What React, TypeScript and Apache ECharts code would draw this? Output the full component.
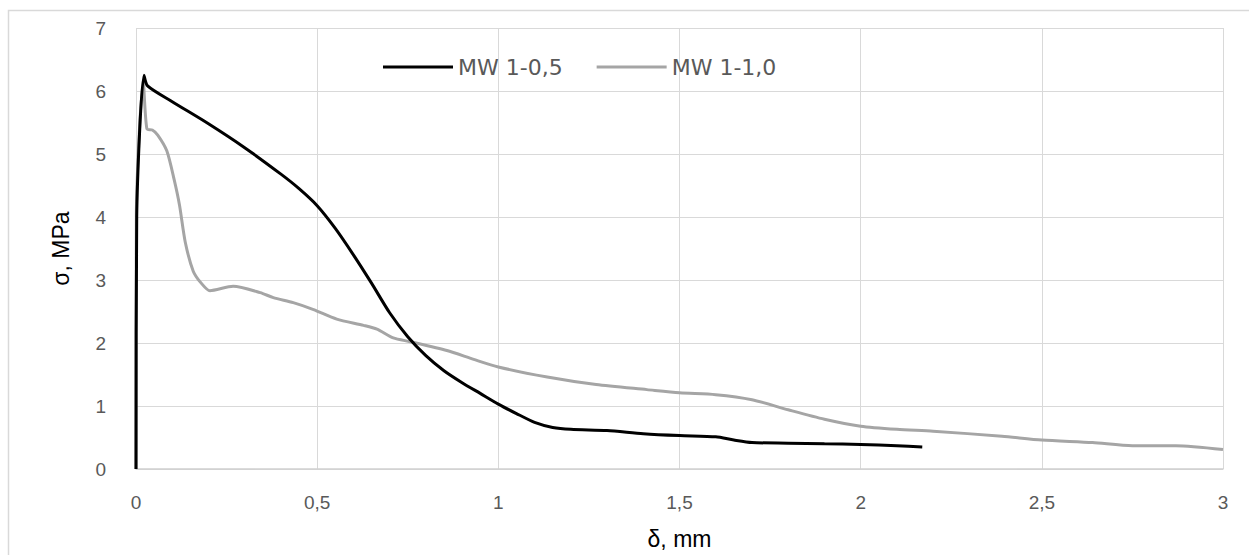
import React, { useEffect, useRef } from "react";
import * as echarts from "echarts";

const seriesNames = ["MW 1-0,5", "MW 1-1,0"];

const blackData: [number, number][] = [
  [0, 0], [0.002, 4.0], [0.022, 6.25], [0.032, 6.08], [0.1, 5.83], [0.2, 5.48],
  [0.3, 5.1], [0.4, 4.68], [0.45, 4.45], [0.5, 4.18], [0.55, 3.82],
  [0.6, 3.4], [0.65, 2.95], [0.7, 2.48], [0.75, 2.1], [0.8, 1.8],
  [0.85, 1.56], [0.9, 1.37], [0.95, 1.2], [1.0, 1.03], [1.05, 0.88],
  [1.1, 0.74], [1.15, 0.66], [1.2, 0.63], [1.3, 0.61], [1.4, 0.56],
  [1.5, 0.53], [1.6, 0.51], [1.65, 0.46], [1.7, 0.42], [1.8, 0.41],
  [1.9, 0.4], [2.0, 0.39], [2.1, 0.37], [2.17, 0.35],
];

const grayData: [number, number][] = [
  [0, 0], [0.001, 4.05], [0.02, 6.15], [0.03, 5.4], [0.045, 5.38], [0.06, 5.3],
  [0.085, 5.05], [0.105, 4.6], [0.12, 4.19], [0.136, 3.6], [0.158, 3.14],
  [0.18, 2.95], [0.204, 2.83], [0.268, 2.9], [0.343, 2.8], [0.379, 2.72],
  [0.434, 2.64], [0.49, 2.53], [0.554, 2.38], [0.628, 2.28], [0.665, 2.22],
  [0.71, 2.08], [0.757, 2.02], [0.858, 1.88], [0.932, 1.74], [1.0, 1.62],
  [1.135, 1.46], [1.27, 1.34], [1.41, 1.26], [1.5, 1.21], [1.6, 1.18],
  [1.7, 1.1], [1.8, 0.94], [1.9, 0.79], [2.0, 0.68], [2.1, 0.63], [2.2, 0.6],
  [2.39, 0.52], [2.5, 0.46], [2.64, 0.42], [2.75, 0.37], [2.87, 0.37],
  [3.0, 0.31],
];

const xAxisTitle = "δ, mm";
const yAxisTitle = "σ, MPa";

export default function App() {
  const ref = useRef<HTMLDivElement>(null);
  useEffect(() => {
    document.body.style.margin = "0";
    const chart = echarts.init(ref.current!, undefined, { renderer: "svg" });
    const font = "'Liberation Sans', Arial, sans-serif";
    chart.setOption({
      animation: false,
      backgroundColor: "#ffffff",
      graphic: [
        {
          type: "rect",
          shape: { x: 8.5, y: 10.5, width: 1260, height: 600 },
          style: { fill: "none", stroke: "#d9d9d9", lineWidth: 1.5 },
          silent: true,
          z: -10,
        },
      ],
      grid: { left: 136, right: 26, top: 28, bottom: 83, containLabel: false },
      legend: {
        left: 378,
        top: 51,
        icon: "rect",
        itemWidth: 70,
        itemHeight: 3,
        itemGap: 34,
        textStyle: { fontFamily: "'DejaVu Sans', sans-serif", fontSize: 22, color: "#595959" },
        data: seriesNames,
      },
      xAxis: {
        type: "value",
        min: 0,
        max: 3,
        interval: 0.5,
        name: xAxisTitle,
        nameLocation: "middle",
        nameGap: 58,
        nameTextStyle: { fontFamily: font, fontSize: 23, color: "#000" },
        axisLine: { show: true, lineStyle: { color: "#d0d0d0", width: 1.5 } },
        axisTick: { show: false },
        axisLabel: {
          margin: 24,
          fontFamily: font,
          fontSize: 19,
          color: "#595959",
          formatter: (v: number) => String(v).replace(".", ","),
        },
        splitLine: { show: true, lineStyle: { color: "#d9d9d9", width: 1 } },
      },
      yAxis: {
        type: "value",
        min: 0,
        max: 7,
        interval: 1,
        name: yAxisTitle,
        nameLocation: "middle",
        nameGap: 64,
        nameRotate: 90,
        nameTextStyle: { fontFamily: font, fontSize: 23, color: "#000" },
        axisLine: { show: false },
        axisTick: { show: false },
        axisLabel: { margin: 30, fontFamily: font, fontSize: 19, color: "#595959" },
        splitLine: { show: true, lineStyle: { color: "#d9d9d9", width: 1 } },
      },
      series: [
        {
          name: seriesNames[0],
          type: "line",
          data: blackData,
          showSymbol: false,
          symbol: "none",
          smooth: 0.25,
          lineStyle: { color: "#000000", width: 3 },
          itemStyle: { color: "#000000" },
          z: 3,
        },
        {
          name: seriesNames[1],
          type: "line",
          data: grayData,
          showSymbol: false,
          symbol: "none",
          smooth: 0.25,
          lineStyle: { color: "#a5a5a5", width: 3 },
          itemStyle: { color: "#a5a5a5" },
          z: 2,
        },
      ],
    });
    return () => chart.dispose();
  }, []);
  return <div ref={ref} style={{ width: 1249, height: 555 }} />;
}
